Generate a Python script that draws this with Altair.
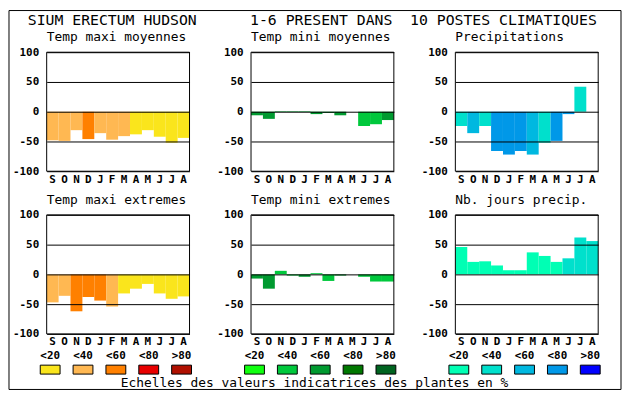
import altair as alt
import pandas as pd

FONT = "DejaVu Sans Mono"

months = ["Sep", "Oct", "Nov", "Dec", "Jan", "Feb", "Mar", "Apr", "May", "Jun", "Jul", "Aug"]
month_letters = ["S", "O", "N", "D", "J", "F", "M", "A", "M", "J", "J", "A"]
classes = ["<20", "<40", "<60", "<80", ">80"]
y_ticks = [-100, -50, 0, 50, 100]

pal_warm = ["#fae51c", "#ffb852", "#ff8000", "#e80000", "#b01000"]
pal_green = ["#10ff10", "#00c83c", "#009a30", "#007800", "#006420"]
pal_blue = ["#00ffb4", "#00e0cc", "#00b8e0", "#0098e8", "#0000ff"]

header = ("SIUM ERECTUM HUDSON" + "\u00a0" * 6 + "1-6 PRESENT DANS" + "\u00a0" * 2
          + "10 POSTES CLIMATIQUES")
caption = "Echelles des valeurs indicatrices des plantes en %"

title_1 = "Temp maxi moyennes"
vals_1 = [-48, -49, -31, -46, -36, -47, -41, -38, -31, -42, -52, -44]
cls_1 = ["<40", "<40", "<40", "<60", "<40", "<40", "<40", "<20", "<20", "<20", "<20", "<20"]

title_2 = "Temp mini moyennes"
vals_2 = [-6, -12, 1, 1, 1, -4, -2, -6, 0, -24, -21, -14]
cls_2 = ["<60", "<60", "<60", "<60", "<60", "<60", "<60", "<60", "<60", "<40", "<40", "<60"]

title_3 = "Precipitations"
vals_3 = [-24, -36, -24, -66, -72, -66, -72, -52, -49, -4, 42, 0]
cls_3 = ["<40", "<60", "<40", "<80", "<80", "<80", "<60", "<40", "<80", "<80", "<40", "<40"]

title_4 = "Temp maxi extremes"
vals_4 = [-47, -36, -62, -38, -44, -54, -32, -24, -16, -32, -41, -37]
cls_4 = ["<40", "<40", "<60", "<60", "<60", "<40", "<20", "<20", "<20", "<20", "<20", "<20"]

title_5 = "Temp mini extremes"
vals_5 = [-7, -24, 6, -2, -4, 2, -11, -2, 0, -4, -12, -12]
cls_5 = ["<60", "<60", "<40", "<40", "<60", "<40", "<40", "<60", "<40", "<40", "<40", "<40"]

title_6 = "Nb. jours precip."
vals_6 = [46, 21, 22, 15, 7, 7, 37, 31, 21, 27, 62, 56]
cls_6 = ["<20", "<20", "<20", "<20", "<20", "<20", "<20", "<20", "<20", "<40", "<40", "<40"]

W, H = 144, 120

label_expr = "[" + ",".join(f"'{l}'" for l in month_letters) + "][indexof([" + \
    ",".join(f"'{m}'" for m in months) + "], datum.value)]"


def panel(title, vals, cls, pal):
    df = pd.DataFrame({"month": months, "value": vals, "cls": cls})
    xenc = alt.X("month:N", sort=months,
                 scale=alt.Scale(paddingInner=0, paddingOuter=0),
                 axis=alt.Axis(title=None, labelExpr=label_expr, labelAngle=0, ticks=False,
                               domain=False, grid=False, labelFont=FONT, labelFontWeight="bold",
                               labelFontSize=11, labelColor="black", labelPadding=2))
    yscale = alt.Scale(domain=[-100, 100], nice=False, zero=False)
    bars = alt.Chart(df).mark_bar(strokeWidth=0).encode(
        x=xenc,
        y=alt.Y("value:Q", scale=yscale,
                axis=alt.Axis(title=None, values=y_ticks, ticks=False, domain=False,
                              grid=True, gridColor="black", gridOpacity=1, gridWidth=1,
                              zindex=1,
                              labelFont=FONT, labelFontWeight="bold", labelFontSize=11,
                              labelColor="black", labelPadding=8, labelFlush=False,
                              labelOverlap=False, labelExpr="'' + datum.value")),
        y2=alt.datum(0),
        color=alt.Color("cls:N", scale=alt.Scale(domain=classes, range=pal), legend=None),
    )
    frame = alt.Chart(pd.DataFrame({"a": [0]})).mark_rect(
        fill="transparent", stroke="black", strokeWidth=1).encode(
        x=alt.value(0), x2=alt.value("width"), y=alt.value(0), y2=alt.value("height"))
    return alt.layer(bars, frame).properties(
        width=W, height=H,
        title=alt.TitleParams(title, anchor="start", frame="group", font=FONT, fontSize=13,
                              fontWeight="normal", color="black", offset=-8,
                              baseline="alphabetic"))


BOX = "M-1,-0.45L1,-0.45L1,0.45L-1,0.45Z"


def legend(pal, with_caption=False, with_frame=False):
    df = pd.DataFrame({"cls": classes, "col": pal})
    x = alt.X("cls:N", sort=classes, scale=alt.Scale(type="point", range=[3.5, 136], padding=0),
              axis=None)
    labels = alt.Chart(df).mark_text(font=FONT, fontWeight="bold", fontSize=11, color="black",
                                     baseline="middle").encode(
        x=x, y=alt.value(-22), text="cls:N")
    boxes = alt.Chart(df).mark_point(shape=BOX, size=400, filled=True, opacity=1,
                                     fillOpacity=1, stroke="black", strokeWidth=1).encode(
        x=x, y=alt.value(-8), fill=alt.Fill("col:N", scale=None))
    layers = [labels, boxes]
    if with_caption:
        layers.append(alt.Chart(pd.DataFrame({"t": [caption]})).mark_text(
            font=FONT, fontSize=13, color="black", align="center", baseline="middle").encode(
            x=alt.value(64), y=alt.value(6), text="t:N"))
    if with_frame:
        layers.append(alt.Chart(pd.DataFrame({"a": [0]})).mark_rect(
            fill="transparent", stroke="black", strokeWidth=1).encode(
            x=alt.value(-38), x2=alt.value(579), y=alt.value(-370), y2=alt.value(12)))
        layers.append(alt.Chart(pd.DataFrame({"t": [header]})).mark_text(
            font=FONT, fontSize=14.9, color="black", align="left", baseline="alphabetic").encode(
            x=alt.value(-19), y=alt.value(-355), text="t:N"))
    return alt.layer(*layers).properties(width=W, height=10)


charts = [
    panel(title_1, vals_1, cls_1, pal_warm),
    panel(title_2, vals_2, cls_2, pal_green),
    panel(title_3, vals_3, cls_3, pal_blue),
    panel(title_4, vals_4, cls_4, pal_warm),
    panel(title_5, vals_5, cls_5, pal_green),
    panel(title_6, vals_6, cls_6, pal_blue),
    legend(pal_warm, with_frame=True),
    legend(pal_green, with_caption=True),
    legend(pal_blue),
]

chart = alt.concat(
    *charts, columns=3, spacing={"row": 44, "column": 62}, bounds="flush",
).resolve_scale(color="independent").properties(
    padding={"left": 0, "top": 0, "right": 0, "bottom": 0}, background="white"
).configure_view(strokeWidth=0)

chart.save("out.html", embed_options={"renderer": "svg", "actions": False})
